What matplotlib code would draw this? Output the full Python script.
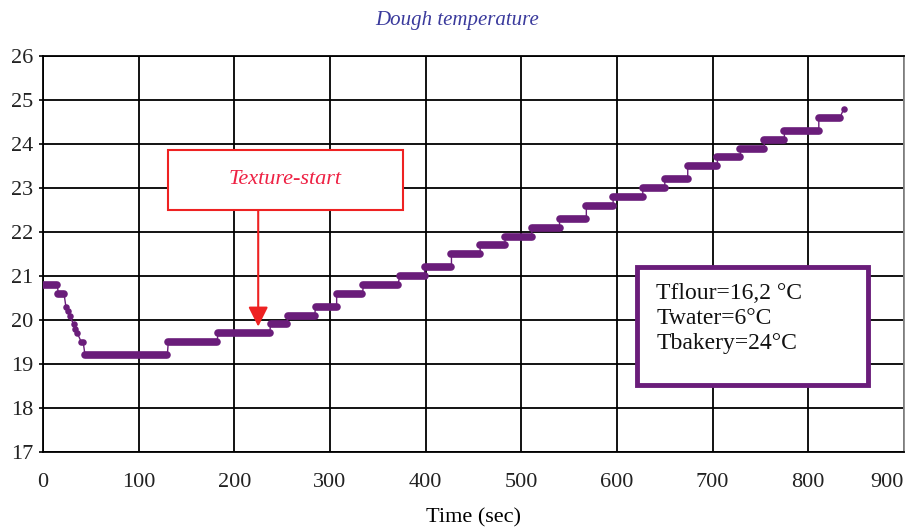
import numpy as np
import matplotlib.pyplot as plt

# --- datos ---
# mesetas de temperatura: inicio (s), fin (s), valor (°C)
plateau_start = [0, 16, 44, 131, 183, 238, 256, 285, 307, 335, 373, 399, 427, 457,
                 483, 511, 540, 568, 596, 627, 650, 674, 705, 729, 754, 775, 811]
plateau_end = [15, 22, 130, 182, 237, 255, 284, 307, 334, 371, 399, 427, 457, 483,
               511, 540, 568, 596, 627, 650, 674, 705, 729, 754, 775, 811, 833]
plateau_temp = [20.8, 20.6, 19.2, 19.5, 19.7, 19.9, 20.1, 20.3, 20.6, 20.8, 21.0, 21.2,
                21.5, 21.7, 21.9, 22.1, 22.3, 22.6, 22.8, 23.0, 23.2, 23.5, 23.7, 23.9,
                24.1, 24.3, 24.6]

# puntos sueltos (bajada inicial y ultimo punto)
drop_time = [24, 26, 28, 32, 34, 36, 40, 42, 837]
drop_temp = [20.3, 20.2, 20.1, 19.9, 19.8, 19.7, 19.5, 19.5, 24.8]

x_ticks = [0, 100, 200, 300, 400, 500, 600, 700, 800, 900]
y_ticks = [17, 18, 19, 20, 21, 22, 23, 24, 25, 26]

info_lines = ["Tflour=16,2 °C", "Twater=6°C", "Tbakery=24°C"]

PURPLE = '#6a1d7a'
SERIF = ['Liberation Serif', 'DejaVu Serif']

fig = plt.figure(figsize=(9.14, 5.31), dpi=100)
ax = fig.add_axes([0.047, 0.149, 0.942, 0.745])

# linea fina que une todo en orden temporal
xs, ys = [], []
for s, e, v in zip(plateau_start[:2], plateau_end[:2], plateau_temp[:2]):
    xs += [s, e]
    ys += [v, v]
xs += drop_time[:-1]
ys += drop_temp[:-1]
for s, e, v in zip(plateau_start[2:], plateau_end[2:], plateau_temp[2:]):
    xs += [s, e]
    ys += [v, v]
xs.append(drop_time[-1])
ys.append(drop_temp[-1])
ax.plot(xs, ys, color=PURPLE, lw=1.0, zorder=3)

# mesetas gruesas (puntos muy juntos)
ax.hlines(plateau_temp, plateau_start, plateau_end, color=PURPLE, lw=5.5,
          capstyle='round', zorder=4)
ax.scatter(drop_time, drop_temp, color=PURPLE, s=22, zorder=4, linewidths=0)

ax.set_xlim(0, 900)
ax.set_ylim(17, 26)
ax.set_xticks(x_ticks)
ax.set_yticks(y_ticks)
ax.grid(True, color='black', lw=1.3)
ax.set_axisbelow(True)
for sp in ax.spines.values():
    sp.set_color('black')
    sp.set_linewidth(1.3)
ax.spines['right'].set_color('#888888')

ax.tick_params(axis='y', length=3, width=1.2, pad=4)
ax.tick_params(axis='x', length=0, pad=15)
for lbl in ax.get_xticklabels() + ax.get_yticklabels():
    lbl.set_family(SERIF)
    lbl.set_fontsize(16)
    lbl.set_color('#222222')
ax.get_xticklabels()[-1].set_ha('right')

ax.set_xlabel('Time (sec)', family=SERIF, fontsize=16, labelpad=12)
fig.text(0.50, 0.962, 'Dough temperature', family=SERIF, style='italic',
         fontsize=15, color='#3a3a9c', ha='center', va='center')

# recuadro "Texture-start" y flecha
ax.add_patch(plt.Rectangle((131, 22.5), 376 - 131, 23.86 - 22.5, fc='white',
                           ec='#ee2222', lw=1.5, zorder=5))
ax.text(253, 23.2, 'Texture-start', family=SERIF, style='italic', fontsize=16,
        color='#ee2244', ha='center', va='center', zorder=6)
ax.annotate('', xy=(225, 19.85), xytext=(225, 22.5),
            arrowprops=dict(arrowstyle='-|>', color='#ee2222', lw=1.5,
                            mutation_scale=30, shrinkA=0, shrinkB=0), zorder=5)

# recuadro con las condiciones
ax.add_patch(plt.Rectangle((621, 18.52), 862 - 621, 21.2 - 18.52, fc='white',
                           ec=PURPLE, lw=3.5, zorder=5))
ax.text(641, 20.84, '\n'.join(info_lines), family=SERIF, fontsize=17,
        color='#111111', ha='left', va='top', linespacing=1.25, zorder=6)

fig.savefig('out.png', dpi=100)
